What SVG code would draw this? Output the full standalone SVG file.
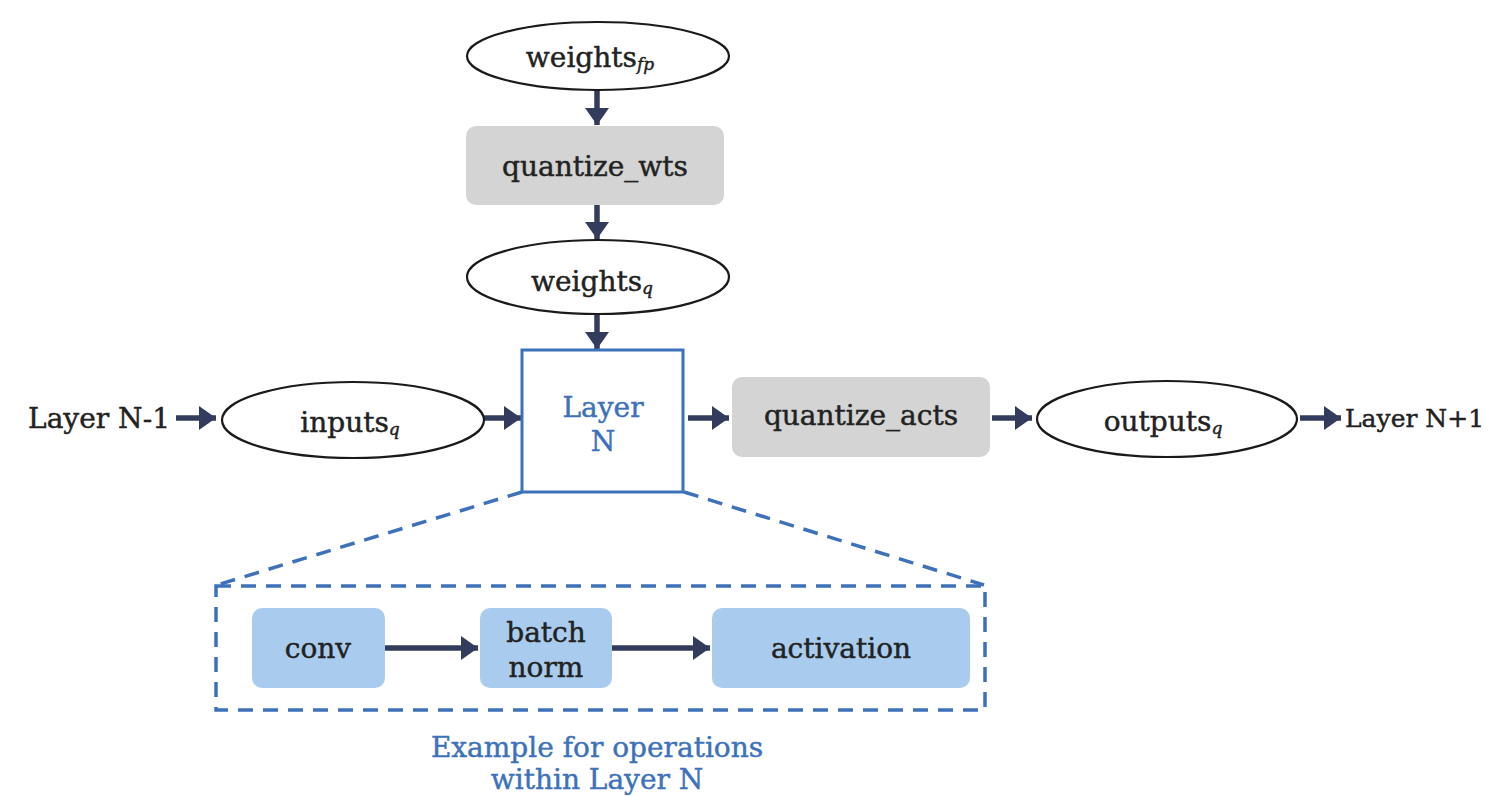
<svg xmlns="http://www.w3.org/2000/svg" width="1488" height="796" viewBox="0 0 1488 796">
  <style>
    .lbl { font-family: "DejaVu Serif", "Liberation Serif", serif; font-size: 28px; fill: #222222; stroke: #222222; stroke-width: 0.45; text-anchor: middle; dominant-baseline: central; }
    .start { text-anchor: start; }
    .blue { fill: #3d72bb; stroke: #3d72bb; }
    .sub { font-size: 17px; font-style: italic; }
    .oval { fill: #ffffff; stroke: #1a1a1a; stroke-width: 2.2; }
    .gray { fill: #d4d4d4; }
    .op { fill: #a9ccee; }
    .layer { fill: #ffffff; stroke: #3d72bb; stroke-width: 3; }
    .dash { fill: none; stroke: #3d72bb; stroke-width: 3.5; stroke-dasharray: 15 10; }
    .conn { stroke: #333c5c; stroke-width: 5.5; fill: none; }
  </style>
  <defs>
    <marker id="head" viewBox="0 0 17 24" refX="17" refY="12" markerWidth="17" markerHeight="24" markerUnits="userSpaceOnUse" orient="auto">
      <path d="M0,0 L17,12 L0,24 Z" fill="#333c5c"/>
    </marker>
  </defs>

  <rect width="1488" height="796" fill="#ffffff"/>

  <!-- connectors -->
  <g id="connectors">
    <line class="conn" x1="597" y1="90" x2="597" y2="125" marker-end="url(#head)"/>
    <line class="conn" x1="597" y1="205" x2="597" y2="239" marker-end="url(#head)"/>
    <line class="conn" x1="597" y1="315" x2="597" y2="349" marker-end="url(#head)"/>
    <line class="conn" x1="176" y1="418" x2="216" y2="418" marker-end="url(#head)"/>
    <line class="conn" x1="484" y1="418" x2="521" y2="418" marker-end="url(#head)"/>
    <line class="conn" x1="688" y1="418" x2="729" y2="418" marker-end="url(#head)"/>
    <line class="conn" x1="992" y1="418" x2="1032" y2="418" marker-end="url(#head)"/>
    <line class="conn" x1="1300" y1="418" x2="1341" y2="418" marker-end="url(#head)"/>
    <line class="conn" x1="385" y1="648" x2="478" y2="648" marker-end="url(#head)"/>
    <line class="conn" x1="612" y1="648" x2="710" y2="648" marker-end="url(#head)"/>
    <!-- zoom-out guides from Layer N to its detail frame -->
    <line class="dash" x1="522" y1="492" x2="217" y2="585"/>
    <line class="dash" x1="684" y1="492" x2="984" y2="585"/>
  </g>

  <g id="weights-fp">
    <ellipse class="oval" cx="598" cy="56" rx="131" ry="34"/>
    <text class="lbl" x="590" y="57">weights<tspan class="sub" dy="7">fp</tspan></text>
  </g>

  <g id="quantize-wts">
    <rect class="gray" x="466" y="126" width="258" height="79" rx="10"/>
    <text class="lbl" x="595" y="166">quantize_wts</text>
  </g>

  <g id="weights-q">
    <ellipse class="oval" cx="598" cy="277" rx="131" ry="37"/>
    <text class="lbl" x="592" y="281">weights<tspan class="sub" dy="7">q</tspan></text>
  </g>

  <g id="layer-prev">
    <text class="lbl start" x="28" y="418" textLength="142" lengthAdjust="spacingAndGlyphs">Layer N-1</text>
  </g>

  <g id="inputs-q">
    <ellipse class="oval" cx="353" cy="420" rx="131" ry="38"/>
    <text class="lbl" x="350" y="422">inputs<tspan class="sub" dy="7">q</tspan></text>
  </g>

  <g id="layer-n">
    <rect class="layer" x="522" y="350" width="161" height="142"/>
    <text class="lbl blue" x="603" y="407">Layer</text>
    <text class="lbl blue" x="603" y="441">N</text>
  </g>

  <g id="quantize-acts">
    <rect class="gray" x="732" y="377" width="258" height="80" rx="10"/>
    <text class="lbl" x="861" y="415">quantize_acts</text>
  </g>

  <g id="outputs-q">
    <ellipse class="oval" cx="1167" cy="419" rx="130" ry="38"/>
    <text class="lbl" x="1163" y="421">outputs<tspan class="sub" dy="7">q</tspan></text>
  </g>

  <g id="layer-next">
    <text class="lbl start" x="1345" y="418" style="font-size:25px">Layer N+1</text>
  </g>

  <g id="layer-detail">
    <rect class="dash" x="216" y="586" width="769" height="124"/>
  </g>

  <g id="conv">
    <rect class="op" x="252" y="608" width="133" height="80" rx="10"/>
    <text class="lbl" x="318" y="648">conv</text>
  </g>

  <g id="batch-norm">
    <rect class="op" x="480" y="608" width="132" height="80" rx="10"/>
    <text class="lbl" x="546" y="632">batch</text>
    <text class="lbl" x="546" y="667">norm</text>
  </g>

  <g id="activation">
    <rect class="op" x="712" y="608" width="258" height="80" rx="10"/>
    <text class="lbl" x="841" y="648">activation</text>
  </g>

  <g id="caption">
    <text class="lbl blue" x="597" y="747">Example for operations</text>
    <text class="lbl blue" x="597" y="779">within Layer N</text>
  </g>
</svg>
